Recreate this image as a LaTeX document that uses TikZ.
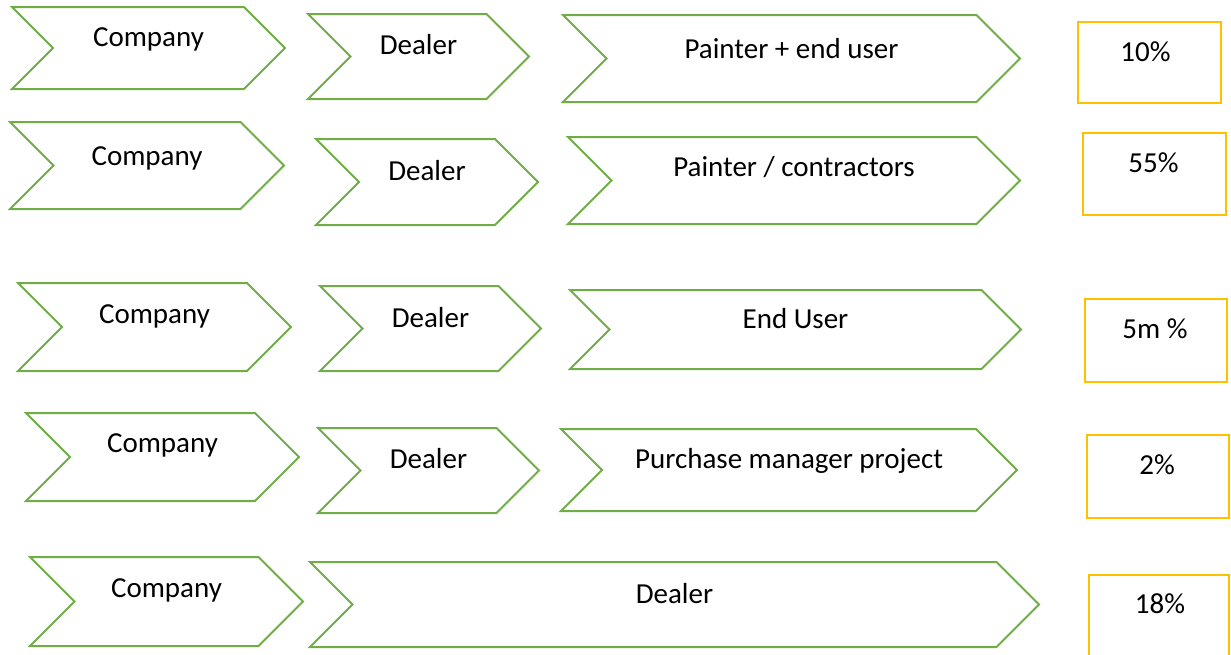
\documentclass[tikz,border=0pt]{standalone}
\usepackage{fontspec}
\setmainfont{Carlito}
\usepackage{xcolor}
\usepackage{tikz}
\usetikzlibrary{shapes.symbols}
\definecolor{chevgreen}{RGB}{112,173,71}
\definecolor{pctgold}{RGB}{255,192,0}
\tikzset{
  chev/.style={
    signal, signal from=west, signal to=east,
    draw=chevgreen, line width=2pt, fill=white,
    inner sep=0pt, outer sep=0pt
  },
  pctbox/.style={
    rectangle, draw=pctgold, line width=2.2pt, fill=white,
    inner sep=0pt, outer sep=0pt
  },
  chevtext/.style={anchor=base, inner sep=0pt, font=\fontsize{29}{34}\selectfont},
}

\begin{document}
\begin{tikzpicture}[x=1pt, y=-1pt]
  \useasboundingbox (0,0) rectangle (1231,654);
  \clip (0,0) rectangle (1231,654);
  % row 1
  \node (co1) [chev, minimum width=273pt, minimum height=82pt] at (148.5,48) {};
  \node (de1) [chev, minimum width=221pt, minimum height=85pt] at (418.5,56.5) {};
  \node (pa1) [chev, minimum width=457pt, minimum height=87pt] at (791.5,58.5) {};
  \node (bx1) [pctbox, minimum width=143pt, minimum height=81pt] at (1149.5,62.5) {};
  \node (co1t) [chevtext] at ([yshift=2pt]co1.center) {Company};
  \node (de1t) [chevtext] at ([yshift=2pt]de1.center) {Dealer};
  \node (pa1t) [chevtext] at ([yshift=0pt]pa1.center) {Painter + end user};
  \node (bx1t) [chevtext] at ([xshift=-4pt,yshift=-39pt]bx1.north) {10\%};
  % row 2
  \node (co2) [chev, minimum width=274pt, minimum height=87pt] at (147,165.5) {};
  \node (de2) [chev, minimum width=222pt, minimum height=86pt] at (427,182) {};
  \node (pa2) [chev, minimum width=452pt, minimum height=87pt] at (794,180.5) {};
  \node (bx2) [pctbox, minimum width=143pt, minimum height=82pt] at (1154.5,174) {};
  \node (co2t) [chevtext] at ([yshift=0pt]co2.center) {Company};
  \node (de2t) [chevtext] at ([yshift=2pt]de2.center) {Dealer};
  \node (pa2t) [chevtext] at ([yshift=4pt]pa2.center) {Painter / contractors};
  \node (bx2t) [chevtext] at ([xshift=-1pt,yshift=-39pt]bx2.north) {55\%};
  % row 3
  \node (co3) [chev, minimum width=273pt, minimum height=88pt] at (154.5,327) {};
  \node (de3) [chev, minimum width=221pt, minimum height=85pt] at (430.5,328.5) {};
  \node (eu3) [chev, minimum width=451pt, minimum height=79pt] at (795.5,329.5) {};
  \node (bx3) [pctbox, minimum width=142pt, minimum height=83pt] at (1156,340.5) {};
  \node (co3t) [chevtext] at ([yshift=4pt]co3.center) {Company};
  \node (de3t) [chevtext] at ([yshift=1pt]de3.center) {Dealer};
  \node (eu3t) [chevtext] at ([yshift=1pt]eu3.center) {End User};
  \node (bx3t) [chevtext] at ([xshift=-1pt,yshift=-39pt]bx3.north) {5m \%};
  % row 4
  \node (co4) [chev, minimum width=273pt, minimum height=88pt] at (162.5,457) {};
  \node (de4) [chev, minimum width=221pt, minimum height=85pt] at (428.5,470.5) {};
  \node (pm4) [chev, minimum width=456pt, minimum height=82pt] at (789,470) {};
  \node (bx4) [pctbox, minimum width=142pt, minimum height=83pt] at (1158,476.5) {};
  \node (co4t) [chevtext] at ([yshift=5pt]co4.center) {Company};
  \node (de4t) [chevtext] at ([yshift=2pt]de4.center) {Dealer};
  \node (pm4t) [chevtext] at ([yshift=2pt]pm4.center) {Purchase manager project};
  \node (bx4t) [chevtext] at ([xshift=-1pt,yshift=-39pt]bx4.north) {2\%};
  % row 5, dealer runs the whole way
  \node (co5) [chev, minimum width=273pt, minimum height=89pt] at (166.5,601.5) {};
  \node (de5) [chev, minimum width=729pt, minimum height=85pt] at (674.5,604.5) {};
  \node (bx5) [pctbox, minimum width=140pt, minimum height=82pt] at (1159,616) {};
  \node (co5t) [chevtext] at ([yshift=4pt]co5.center) {Company};
  \node (de5t) [chevtext] at ([yshift=1pt]de5.center) {Dealer};
  \node (bx5t) [chevtext] at ([xshift=1pt,yshift=-38pt]bx5.north) {18\%};
\end{tikzpicture}
\end{document}
